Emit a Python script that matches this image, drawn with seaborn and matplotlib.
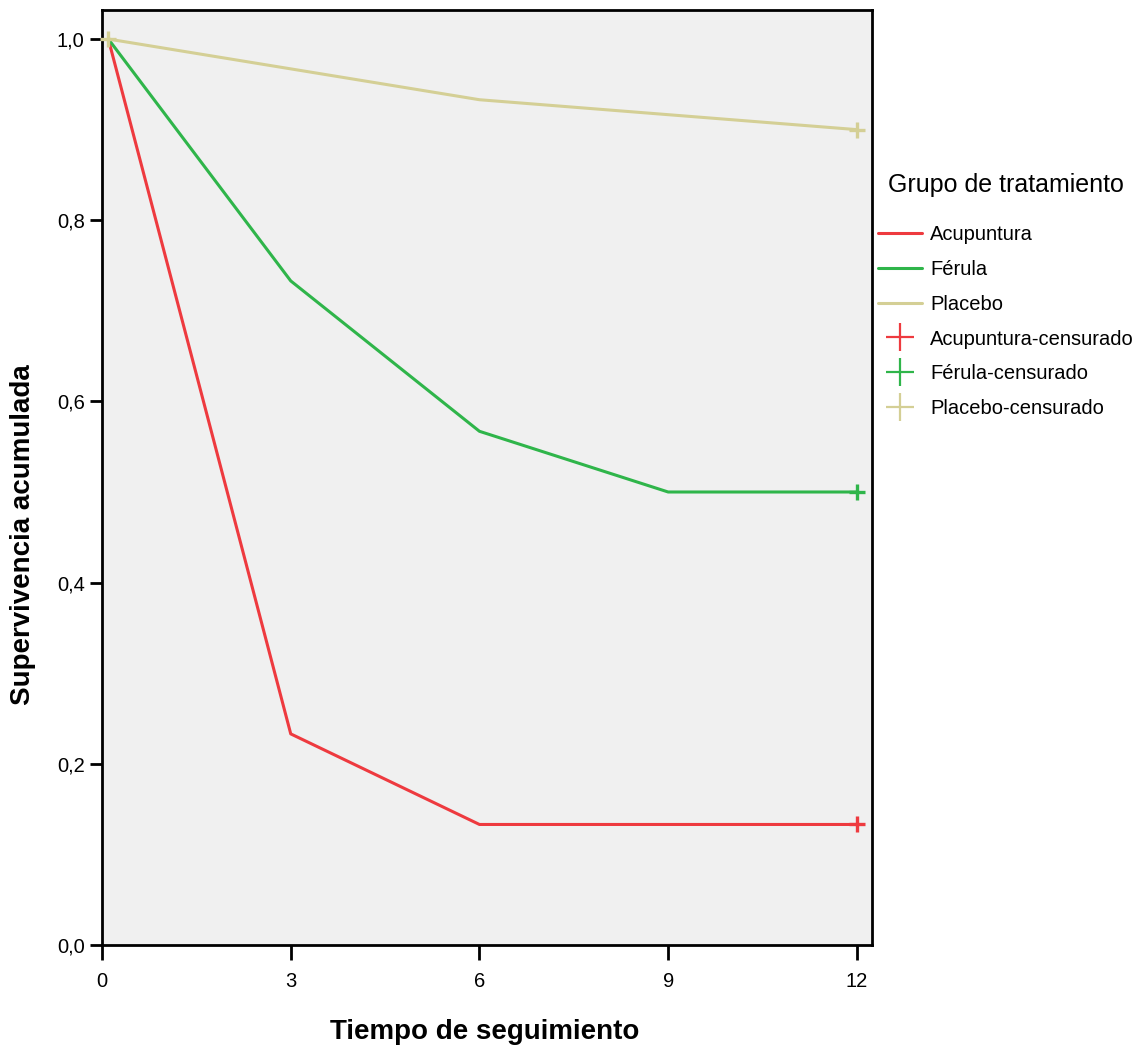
import matplotlib
matplotlib.use("Agg")
import matplotlib.pyplot as plt
from matplotlib.lines import Line2D
import seaborn as sns
import pandas as pd

# Kaplan-Meier survival estimates per treatment group
groups = ["Acupuntura", "Férula", "Placebo"]
acu_time = [0.1, 3, 6, 9, 12]
acu_surv = [1.0, 0.233, 0.133, 0.133, 0.133]
fer_time = [0.1, 3, 6, 9, 12]
fer_surv = [1.0, 0.733, 0.567, 0.5, 0.5]
pla_time = [0.1, 6, 12]
pla_surv = [1.0, 0.933, 0.9]

# Censored observations
cens_group = ["Acupuntura", "Férula", "Placebo", "Placebo"]
cens_time = [12, 12, 0.1, 12]
cens_surv = [0.133, 0.5, 1.0, 0.9]

xticks = [0, 3, 6, 9, 12]
yticks = [0.0, 0.2, 0.4, 0.6, 0.8, 1.0]
ytick_labels = ["0,0", "0,2", "0,4", "0,6", "0,8", "1,0"]

colors = {"Acupuntura": "#ee3a3f", "Férula": "#2fb54a", "Placebo": "#d4cf95"}

df = pd.DataFrame({
    "Tiempo": acu_time + fer_time + pla_time,
    "Supervivencia": acu_surv + fer_surv + pla_surv,
    "Grupo": ["Acupuntura"] * len(acu_time) + ["Férula"] * len(fer_time) + ["Placebo"] * len(pla_time),
})
cens = pd.DataFrame({"Tiempo": cens_time, "Supervivencia": cens_surv, "Grupo": cens_group})

sns.set_style("white")
plt.rcParams["font.family"] = ["Liberation Sans", "DejaVu Sans"]
plt.rcParams["text.color"] = "black"
plt.rcParams["axes.labelcolor"] = "black"

fig = plt.figure(figsize=(11.44, 10.46), dpi=100)
ax = fig.add_axes([0.0892, 0.0966, 0.6730, 0.8938])
ax.set_facecolor("#f0f0f0")

sns.lineplot(data=df, x="Tiempo", y="Supervivencia", hue="Grupo", hue_order=groups,
             palette=colors, linewidth=2.2, ax=ax, legend=False, estimator=None, sort=False)
for g in groups:
    sub = cens[cens["Grupo"] == g]
    ax.scatter(sub["Tiempo"], sub["Supervivencia"], marker="+", s=120, linewidths=2.4,
               color=colors[g], zorder=5, clip_on=False)

ax.set_xlim(0, 12.24)
ax.set_ylim(0, 1.032)
ax.set_xticks(xticks)
ax.set_xticklabels([str(t) for t in xticks])
ax.set_yticks(yticks)
ax.set_yticklabels(ytick_labels)
ax.tick_params(axis="x", direction="out", length=11, width=2, labelsize=14.5, pad=8.5,
               bottom=True, colors="black")
ax.tick_params(axis="y", direction="out", length=9, width=2, labelsize=14.5, pad=3.5,
               left=True, colors="black")
for s in ax.spines.values():
    s.set_linewidth(2)
    s.set_color("black")

ax.set_xlabel("Tiempo de seguimiento", fontsize=20, fontweight="bold")
ax.set_ylabel("Supervivencia acumulada", fontsize=20, fontweight="bold")
ax.xaxis.set_label_coords(0.497, -0.079)
ax.yaxis.set_label_coords(-0.0857, 0.4385)

handles = [Line2D([0], [0], color=colors[g], lw=2.2) for g in groups]
handles += [Line2D([0], [0], color=colors[g], lw=0, marker="+", markersize=20, markeredgewidth=1.6)
            for g in groups]
labels = groups + [f"{g}-censurado" for g in groups]
leg = fig.legend(handles, labels, title="Grupo de tratamiento", loc="upper left",
                 bbox_to_anchor=(878 / 1144, 1 - 173 / 1046), frameon=False, fontsize=14.5,
                 title_fontsize=18, handlelength=2.2, handletextpad=0.4, labelspacing=0.79,
                 borderaxespad=0, borderpad=0)
leg._legend_box.align = "center"
leg._legend_box.sep = 20

fig.savefig("out.png", dpi=100)
